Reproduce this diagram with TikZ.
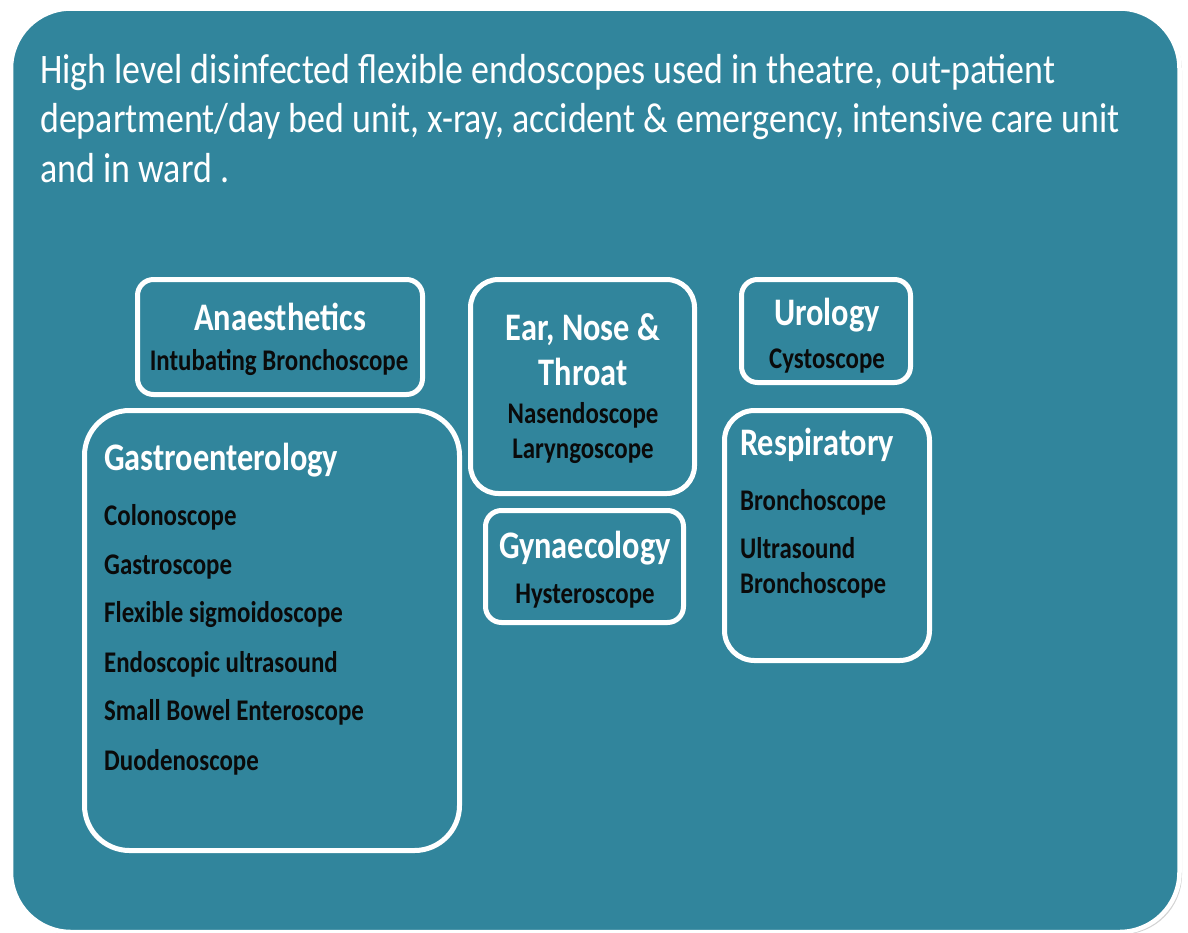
\documentclass[tikz,border=0pt]{standalone}
\usepackage{fontspec}
\setmainfont[FakeStretch=0.83]{Carlito}
\newfontfamily\titlefont[FakeStretch=0.856]{Carlito}
\usetikzlibrary{shadows}
\definecolor{panelteal}{HTML}{31859C}
\definecolor{itemblack}{HTML}{0A0A0A}
\begin{document}
\begin{tikzpicture}[x=1pt,y=-1pt,
  panel/.style={draw=white, fill=panelteal, line width=4.5pt, rounded corners=60pt,
    drop shadow={shadow xshift=2.5pt, shadow yshift=-2.5pt, opacity=0.35, fill=gray}},
  box/.style={draw=white, line width=5pt, inner sep=0pt, outer sep=0pt},
  head/.style={text=white, font=\bfseries\fontsize{39}{39}\selectfont, inner sep=0pt},
  item/.style={text=itemblack, font=\bfseries\fontsize{30}{30}\selectfont, inner sep=0pt},
  titleline/.style={text=white, font=\titlefont\fontsize{42}{42}\selectfont, inner sep=0pt, anchor=base west}
]
\useasboundingbox (0,0) rectangle (1188,932);
\path[panel] (11,8.5) rectangle (1179.5,932);

% title
\node[titleline] (t1) at (40,83) {High level disinfected flexible endoscopes used in theatre, out-patient};
\node[titleline] (t2) at (40,132) {department/day bed unit, x-ray, accident \& emergency, intensive care unit};
\node[titleline] (t3) at (40,182) {and in ward .};

% boxes
\node[box, rounded corners=16pt, minimum width=285pt, minimum height=115pt] (anaes) at (280,337) {};
\node[box, rounded corners=45pt, minimum width=375pt, minimum height=440pt] (gastro) at (272,630.5) {};
\node[box, rounded corners=28pt, minimum width=224pt, minimum height=214pt] (ent) at (582.5,386.5) {};
\node[box, rounded corners=16pt, minimum width=198pt, minimum height=112pt] (gyn) at (584.5,566.5) {};
\node[box, rounded corners=16pt, minimum width=169pt, minimum height=103pt] (uro) at (826,331) {};
\node[box, rounded corners=30pt, minimum width=205pt, minimum height=250pt] (resp) at (827,535.5) {};

% Anaesthetics
\node[head, anchor=base] (anaesH) at (280,330) {Anaesthetics};
\node[item, anchor=base] (anaes1) at (279,370) {Intubating Bronchoscope};

% Gastroenterology
\node[head, anchor=base west] (gastroH) at (104,470) {Gastroenterology};
\node[item, anchor=base west] (g1) at (104,525) {Colonoscope};
\node[item, anchor=base west] (g2) at (104,574) {Gastroscope};
\node[item, anchor=base west] (g3) at (104,622) {Flexible sigmoidoscope};
\node[item, anchor=base west] (g4) at (104,672) {Endoscopic ultrasound};
\node[item, anchor=base west] (g5) at (104,720) {Small Bowel Enteroscope};
\node[item, anchor=base west] (g6) at (104,770) {Duodenoscope};

% ENT
\node[head, anchor=base] (entH1) at (583,340) {Ear, Nose \&};
\node[head, anchor=base] (entH2) at (583,385) {Throat};
\node[item, anchor=base] (ent1) at (583,423) {Nasendoscope};
\node[item, anchor=base] (ent2) at (583,458) {Laryngoscope};

% Gynaecology
\node[head, anchor=base] (gynH) at (585,558) {Gynaecology};
\node[item, anchor=base] (gyn1) at (585,603) {Hysteroscope};

% Urology
\node[head, anchor=base] (uroH) at (827,325) {Urology};
\node[item, anchor=base] (uro1) at (827,368) {Cystoscope};

% Respiratory
\node[head, anchor=base west] (respH) at (740,455) {Respiratory};
\node[item, anchor=base west] (r1) at (740,510) {Bronchoscope};
\node[item, anchor=base west] (r2) at (740,558) {Ultrasound};
\node[item, anchor=base west] (r3) at (740,593) {Bronchoscope};
\end{tikzpicture}
\end{document}
